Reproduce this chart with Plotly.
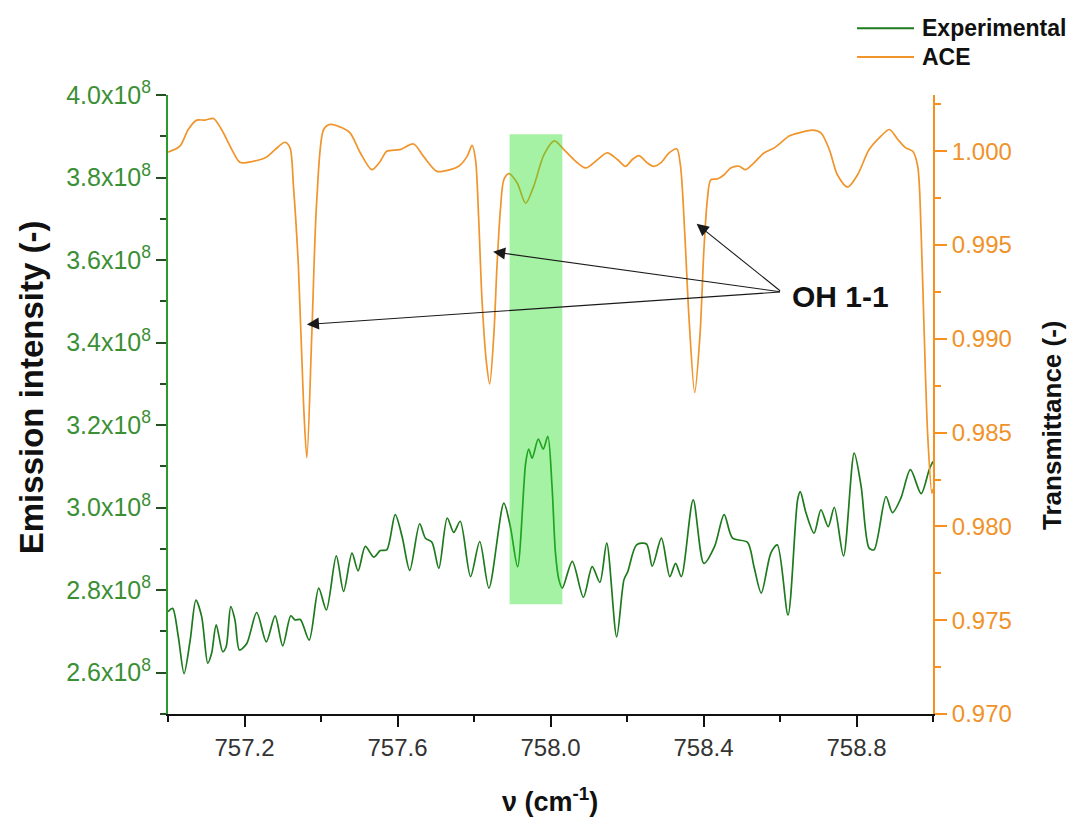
import plotly.graph_objects as go

# ---------------- data ----------------
ace_wn = [757.000, 757.031, 757.053, 757.075, 757.097, 757.119, 757.140, 757.167, 757.188, 757.223,
          757.258, 757.280, 757.306, 757.319, 757.328, 757.341, 757.354, 757.363, 757.376, 757.389,
          757.407, 757.424, 757.455, 757.476, 757.503, 757.533, 757.555, 757.572, 757.607, 757.642,
          757.668, 757.703, 757.738, 757.760, 757.782, 757.795, 757.804, 757.812, 757.821, 757.832,
          757.841, 757.852, 757.860, 757.869, 757.878, 757.891, 757.913, 757.935, 757.956, 757.983,
          758.010, 758.035, 758.061, 758.092, 758.118, 758.148, 758.175, 758.196, 758.214, 758.231,
          758.253, 758.270, 758.288, 758.310, 758.330, 758.340, 758.351, 758.362, 758.377, 758.391,
          758.401, 758.410, 758.419, 758.436, 758.454, 758.471, 758.493, 758.510, 758.532, 758.558,
          758.585, 758.602, 758.624, 758.650, 758.685, 758.707, 758.729, 758.750, 758.777, 758.803,
          758.833, 758.864, 758.886, 758.908, 758.929, 758.947, 758.960, 758.969, 758.977, 758.986,
          758.997, 759.000]
ace_t = [0.99995, 1.00027, 1.00116, 1.00166, 1.00166, 1.00175, 1.00116, 1.00009, 0.99941, 0.99947,
         0.99970, 1.00009, 1.00048, 1.00018, 0.99813, 0.99384, 0.98670, 0.98366, 0.99027, 0.99741,
         1.00116, 1.00143, 1.00125, 1.00098, 0.99991, 0.99902, 0.99947, 1.00000, 1.00009, 1.00039,
         0.99973, 0.99893, 0.99902, 0.99920, 0.99973, 1.00031, 0.99956, 0.99652, 0.99206, 0.98884,
         0.98760, 0.99027, 0.99384, 0.99688, 0.99848, 0.99881, 0.99831, 0.99723, 0.99813, 0.99982,
         1.00055, 1.00009, 0.99956, 0.99911, 0.99947, 0.99991, 0.99956, 0.99920, 0.99956, 0.99977,
         0.99938, 0.99920, 0.99938, 0.99991, 1.00013, 0.99920, 0.99563, 0.99116, 0.98714, 0.99027,
         0.99473, 0.99741, 0.99848, 0.99852, 0.99875, 0.99911, 0.99920, 0.99902, 0.99938, 0.99991,
         1.00018, 1.00045, 1.00081, 1.00098, 1.00113, 1.00098, 1.00009, 0.99875, 0.99809, 0.99875,
         1.00009, 1.00081, 1.00116, 1.00063, 1.00018, 1.00000, 0.99920, 0.99563, 0.99027, 0.98492,
         0.98177, 0.98200]

exp_wn = [757.000, 757.012, 757.027, 757.042, 757.058, 757.073, 757.088, 757.104, 757.114, 757.126,
          757.143, 757.152, 757.164, 757.175, 757.187, 757.206, 757.232, 757.257, 757.280, 757.300,
          757.321, 757.332, 757.346, 757.369, 757.394, 757.414, 757.440, 757.459, 757.481, 757.497,
          757.516, 757.538, 757.555, 757.572, 757.594, 757.612, 757.632, 757.658, 757.673, 757.690,
          757.708, 757.730, 757.747, 757.764, 757.791, 757.815, 757.839, 757.878, 757.895, 757.914,
          757.935, 757.943, 757.952, 757.968, 757.981, 757.993, 758.004, 758.013, 758.022, 758.031,
          758.057, 758.086, 758.109, 758.129, 758.147, 758.173, 758.192, 758.202, 758.225, 758.251,
          758.266, 758.290, 758.312, 758.327, 758.342, 758.373, 758.401, 758.429, 758.454, 758.476,
          758.515, 758.532, 758.551, 758.576, 758.593, 758.621, 758.646, 758.653, 758.668, 758.689,
          758.707, 758.726, 758.742, 758.766, 758.794, 758.812, 758.833, 758.846, 758.877, 758.894,
          758.916, 758.941, 758.969, 758.990, 759.000]
exp_i = [2.748, 2.756, 2.687, 2.598, 2.679, 2.776, 2.736, 2.623, 2.647, 2.716,
         2.651, 2.663, 2.760, 2.728, 2.655, 2.671, 2.746, 2.675, 2.738, 2.665,
         2.738, 2.728, 2.729, 2.679, 2.805, 2.752, 2.883, 2.797, 2.890, 2.847,
         2.906, 2.880, 2.896, 2.898, 2.983, 2.930, 2.848, 2.961, 2.926, 2.916,
         2.853, 2.975, 2.940, 2.967, 2.833, 2.918, 2.805, 3.011, 2.954, 2.857,
         3.108, 3.142, 3.120, 3.166, 3.142, 3.173, 3.052, 2.890, 2.825, 2.805,
         2.870, 2.783, 2.857, 2.819, 2.914, 2.687, 2.825, 2.845, 2.910, 2.912,
         2.858, 2.926, 2.833, 2.865, 2.833, 3.019, 2.865, 2.906, 2.983, 2.926,
         2.916, 2.857, 2.793, 2.890, 2.910, 2.740, 3.019, 3.039, 2.987, 2.938,
         2.995, 2.954, 3.001, 2.883, 3.132, 3.052, 2.902, 2.898, 3.027, 2.988,
         3.023, 3.092, 3.034, 3.092, 3.112]
exp_i = [v * 1e8 for v in exp_i]

left_ticks = [2.6e8, 2.8e8, 3.0e8, 3.2e8, 3.4e8, 3.6e8, 3.8e8, 4.0e8]
left_labels = ["2.6x10<sup>8</sup>", "2.8x10<sup>8</sup>", "3.0x10<sup>8</sup>", "3.2x10<sup>8</sup>",
               "3.4x10<sup>8</sup>", "3.6x10<sup>8</sup>", "3.8x10<sup>8</sup>", "4.0x10<sup>8</sup>"]
left_minor = [2.5e8, 2.7e8, 2.9e8, 3.1e8, 3.3e8, 3.5e8, 3.7e8, 3.9e8]
right_ticks = [0.970, 0.975, 0.980, 0.985, 0.990, 0.995, 1.000]
right_labels = ["0.970", "0.975", "0.980", "0.985", "0.990", "0.995", "1.000"]
x_ticks = [757.2, 757.6, 758.0, 758.4, 758.8]
x_labels = ["757.2", "757.6", "758.0", "758.4", "758.8"]

band_wn = [757.893, 758.031]
band_i = [2.766e8, 3.905e8]

arrow_heads = [(757.363, 0.99077), (757.850, 0.99464), (758.382, 0.99613)]
arrow_tail = (758.604, 0.99250)
label_pos = (758.757, 0.99225)

series_names = ["Experimental", "ACE"]

GREEN = "#1d7a1d"
GREEN_AX = "#2a9a2a"
GREEN_TXT = "#3b8f34"
TICK_L = "#234f23"
ORANGE = "#f0942c"
ORANGE_AX = "#f7901e"
ORANGE_TXT = "#f0922a"
FONT = "Liberation Sans, Arial, sans-serif"

fig = go.Figure()
fig.add_trace(go.Scatter(x=exp_wn, y=exp_i, mode="lines", name=series_names[0],
                         line=dict(color=GREEN, width=1.7, shape="spline", smoothing=0.8), yaxis="y"))
fig.add_trace(go.Scatter(x=ace_wn, y=ace_t, mode="lines", name=series_names[1],
                         line=dict(color=ORANGE, width=1.7, shape="spline", smoothing=0.8), yaxis="y2"))

fig.add_shape(type="rect", xref="x", yref="y", x0=band_wn[0], x1=band_wn[1], y0=band_i[0], y1=band_i[1],
              fillcolor="rgba(40,225,40,0.42)", line=dict(width=0), layer="above")

# arrows
for hx, hy in arrow_heads:
    fig.add_annotation(x=hx, y=hy, xref="x", yref="y2", ax=arrow_tail[0], ay=arrow_tail[1],
                       axref="x", ayref="y2", text="", showarrow=True, arrowhead=2,
                       arrowsize=2.2, arrowwidth=1.1, arrowcolor="#1a1a1a")
fig.add_annotation(x=label_pos[0], y=label_pos[1], xref="x", yref="y2", text="<b>OH 1-1</b>",
                   showarrow=False, font=dict(family=FONT, size=30, color="#111"),
                   xanchor="center", yanchor="middle")

# axis titles
fig.add_annotation(x=-0.179, y=0.528, xref="paper", yref="paper", text="<b>Emission intensity (-)</b>",
                   textangle=-90, showarrow=False, font=dict(family=FONT, size=33, color="#111"),
                   xanchor="center", yanchor="middle")
fig.add_annotation(x=1.1556, y=0.467, xref="paper", yref="paper", text="<b>Transmittance (-)</b>",
                   textangle=-90, showarrow=False, font=dict(family=FONT, size=26, color="#111"),
                   xanchor="center", yanchor="middle")
fig.add_annotation(x=0.4993, y=-0.139, xref="paper", yref="paper", text="<b>ν (cm<sup>-1</sup>)</b>",
                   showarrow=False, font=dict(family=FONT, size=27, color="#111"),
                   xanchor="center", yanchor="middle")

# legend drawn manually (long line samples like the reference)
legend_rows = [(1.108, GREEN), (1.0614, ORANGE)]
for (ly, col), name in zip(legend_rows, series_names):
    fig.add_shape(type="line", xref="paper", yref="paper", x0=0.9007, x1=0.9752, y0=ly, y1=ly,
                  line=dict(color=col, width=2))
    fig.add_annotation(x=0.983, y=ly, xref="paper", yref="paper", text="<b>%s</b>" % name,
                       showarrow=False, font=dict(family=FONT, size=23, color="#111"),
                       xanchor="left", yanchor="middle")

fig.update_layout(
    width=1078, height=817,
    margin=dict(l=168, r=145, t=95, b=103),
    paper_bgcolor="white", plot_bgcolor="white",
    font=dict(family=FONT),
    showlegend=False,
    xaxis=dict(range=[757.0, 759.0], tickmode="array", tickvals=x_ticks, ticktext=x_labels,
               showgrid=False, zeroline=False, showline=True, linecolor="#111", linewidth=2,
               ticks="outside", ticklen=11, tickwidth=2, tickcolor="#111",
               tickfont=dict(size=24, color="#333"),
               minor=dict(tickmode="linear", tick0=757.0, dtick=0.2, ticks="outside", ticklen=6,
                          tickwidth=2, tickcolor="#111", showgrid=False)),
    xaxis2=dict(range=[757.0, 759.0], overlaying="x", side="top", anchor="y",
                tickmode="array", tickvals=x_ticks, showticklabels=False,
                showgrid=False, zeroline=False, showline=True, linecolor="#111", linewidth=2,
                ticks="inside", ticklen=11, tickwidth=2, tickcolor="#111",
                minor=dict(tickmode="linear", tick0=757.0, dtick=0.2, ticks="inside", ticklen=6,
                           tickwidth=2, tickcolor="#111", showgrid=False)),
    yaxis=dict(range=[2.5e8, 4.0e8], tickmode="array", tickvals=left_ticks, ticktext=left_labels,
               showgrid=False, zeroline=False, showline=True, linecolor=GREEN_AX, linewidth=2,
               ticks="outside", ticklen=10, tickwidth=2, tickcolor=TICK_L,
               tickfont=dict(size=25, color=GREEN_TXT),
               minor=dict(tickmode="array", tickvals=left_minor, ticks="outside", ticklen=6,
                          tickwidth=2, tickcolor=TICK_L, showgrid=False)),
    yaxis2=dict(range=[0.9700, 1.0030], overlaying="y", side="right", anchor="x",
                tickmode="array", tickvals=right_ticks, ticktext=right_labels,
                showgrid=False, zeroline=False, showline=True, linecolor=ORANGE_AX, linewidth=2,
                ticks="outside", ticklen=12, tickwidth=2, tickcolor=ORANGE_AX,
                tickfont=dict(size=24, color=ORANGE_TXT),
                minor=dict(tickmode="linear", tick0=0.970, dtick=0.0025, ticks="outside", ticklen=6,
                           tickwidth=2, tickcolor=ORANGE_AX, showgrid=False)),
)

fig.write_html("out.html")
